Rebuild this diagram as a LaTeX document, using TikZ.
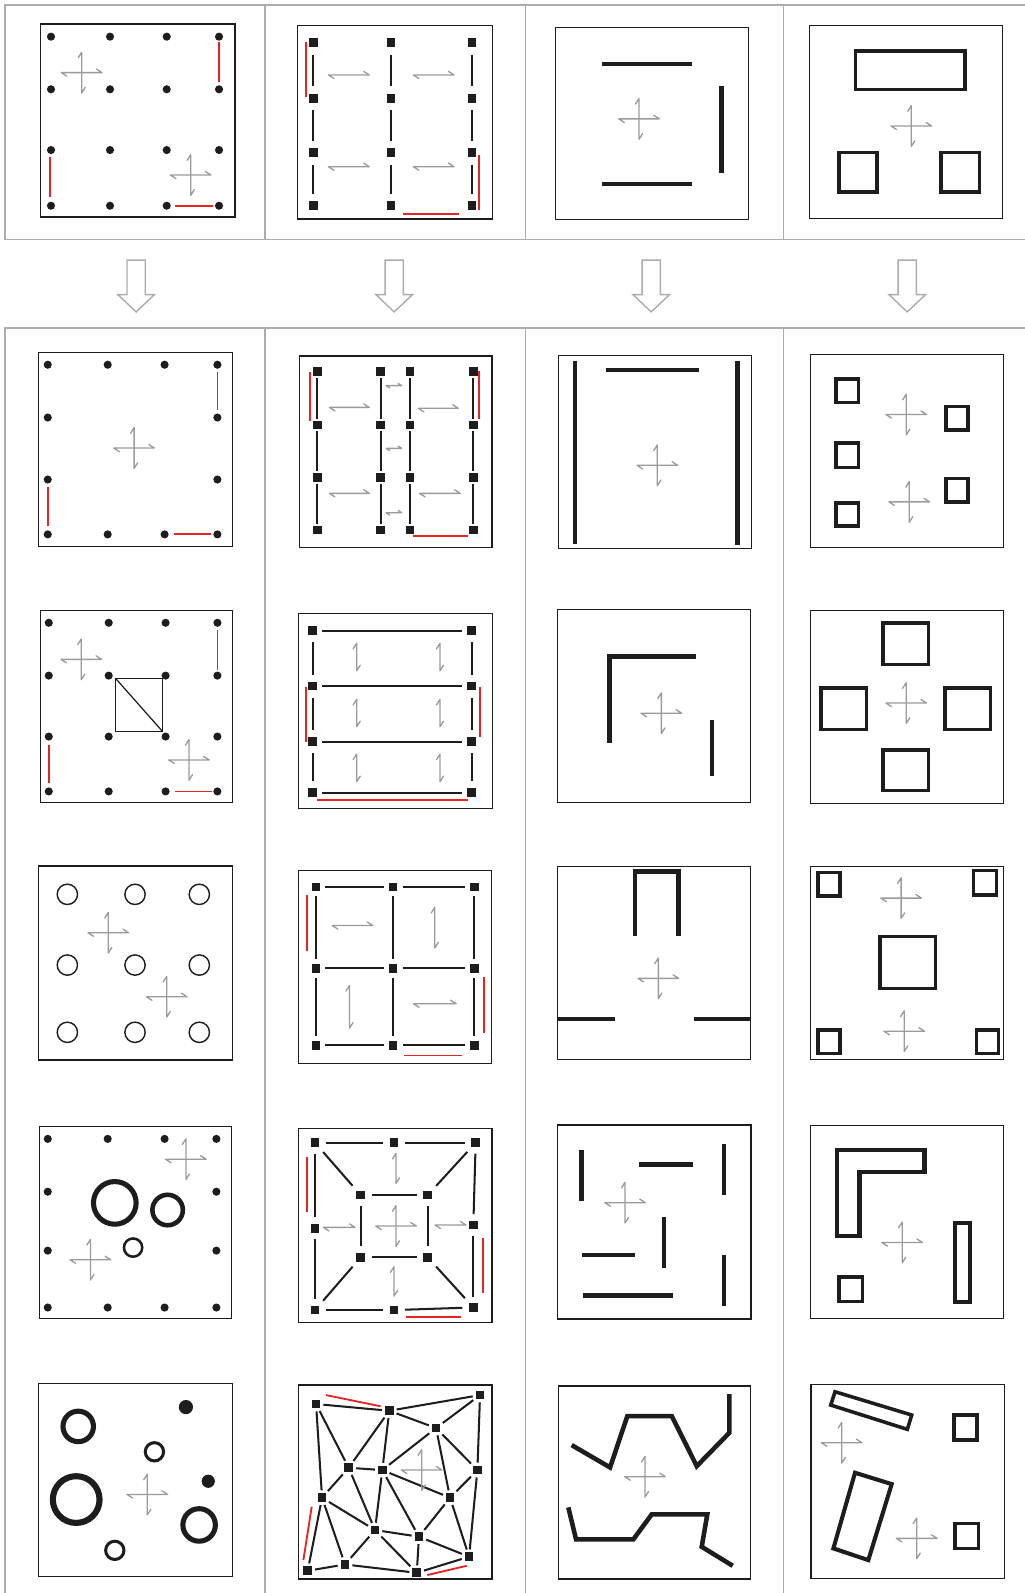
\documentclass[tikz,border=0pt]{standalone}
\usetikzlibrary{calc}
\definecolor{gridc}{RGB}{172,172,172}
\definecolor{arrc}{RGB}{155,155,155}
\definecolor{redc}{RGB}{232,35,35}
\definecolor{ink}{RGB}{30,28,28}
\newcommand\HArr[3]{\draw[gar] ({#1+5.5},{#3+3.5}) -- ({#1},{#3}) -- ({#2},{#3}) -- ({#2-5.5},{#3-3.5});}
\newcommand\HArrS[3]{\draw[gar] ({#1+3.5},{#3+2.2}) -- ({#1},{#3}) -- ({#2},{#3}) -- ({#2-3.5},{#3-2.2});}
\newcommand\VArr[3]{\draw[gar] ({#1-3.5},{#2+5.5}) -- ({#1},{#2}) -- ({#1},{#3}) -- ({#1+3.5},{#3-5.5});}
\newcommand\MyCross[2]{\HArr{#1-20}{#1+20}{#2}\VArr{#1}{#2-20}{#2+20}}
\begin{document}
\begin{tikzpicture}[x=1pt,y=-1pt,
 gridl/.style={draw=gridc,line width=1.4pt},
 panel/.style={draw=ink,line width=1.3pt},
 gar/.style={draw=arrc,line width=1.3pt,line join=round,line cap=round},
 redseg/.style={draw=redc,line width=1.8pt},
 tbar/.style={draw=ink,line width=4.5pt},
 obox/.style={draw=ink,line width=3.5pt},
 sq/.style={fill=ink,draw=none,minimum size=8.5pt,inner sep=0pt,outer sep=0pt},
 dot/.style={circle,fill=ink,draw=none,minimum size=8pt,inner sep=0pt},
 lnk/.style={draw=ink,line width=2pt},
 ring/.style={draw=ink,line width=1.4pt},
]
\useasboundingbox (0,0) rectangle (1008,1568);
% ---------- grid ----------
\draw[gridl] (1012,5) -- (5,5) -- (5,236) -- (1012,236);
\foreach \x in {261,517,771} \draw[gridl] (\x,5) -- (\x,236);
\draw[gridl] (1012,323) -- (5,323) -- (5,1572);
\foreach \x in {261,517,771} \draw[gridl] (\x,323) -- (\x,1572);
\foreach \x in {134,388,641,893}
  \draw[gridl,line join=miter] ({\x-9},256) -- ({\x+9},256) -- ({\x+9},290) -- ({\x+18},290) -- (\x,307) -- ({\x-18},290) -- ({\x-9},290) -- cycle;

% ---------- P01 ----------
\draw[panel] (40.1,23.6) rectangle (231.3,213.6);
\foreach \x [count=\i] in {50.2,108.3,164.1,215.6}
  \foreach \y [count=\j] in {36.1,87.9,147.7,202.5}
    \node[dot] (a\i\j) at (\x,\y) {};
\draw[redseg] (215.9,41) -- (215.9,80.4);
\draw[redseg] (49.2,154.2) -- (49.2,193.6);
\draw[redseg] (172.3,202.5) -- (210,202.5);
\MyCross{80.4}{71.5}
\MyCross{187.7}{172.3}

% ---------- P02 ----------
\draw[panel] (293,24.9) rectangle (484.6,215.6);
\foreach \x [count=\i] in {308.4,384.9,464.6}
  \foreach \y [count=\j] in {42,96.8,150.3,202.5}
    \node[sq] (b\i\j) at (\x,\y) {};
\foreach \i in {1,2,3}
  \foreach \j/\k in {1/2,2/3,3/4}
    \draw[lnk,shorten >=7.5pt,shorten <=7.5pt] (b\i\j) -- (b\i\k);
\HArr{323.2}{363.5}{73.8}
\HArr{406.8}{446.9}{73.8}
\HArr{323.2}{363.5}{164.1}
\HArr{406.8}{446.9}{164.1}
\draw[redseg] (300.9,41) -- (300.9,95.2);
\draw[redseg] (471.5,152.6) -- (471.5,206.7);
\draw[redseg] (397,210.3) -- (452.1,210.3);

% ---------- P03 ----------
\draw[panel] (547,27) rectangle (737,216);
\draw[tbar] (593,63) -- (681,63);
\draw[tbar] (710,85) -- (710,170);
\draw[tbar] (593,181) -- (681,181);
\MyCross{629}{117}

% ---------- P04 ----------
\draw[panel] (797,25) rectangle (987,215);
\draw[obox] (842,50) rectangle (950,88);
\draw[obox] (826,150) rectangle (863,189);
\draw[obox] (926,150) rectangle (964,189);
\MyCross{897}{124}

% ---------- P11 ----------
\draw[panel] (38,347) rectangle (229,538);
\foreach \x/\y [count=\k] in {47/359,106/359,162/359,214/359,47/411,214/411,47/472,214/472,47/526,106/526,162/526,214/526}
  \node[dot] (c\k) at (\x,\y) {};
\draw[redseg] (214,366) -- (214,404);
\draw[redseg] (47,479) -- (47,518);
\draw[redseg] (171,526) -- (208,526);
\MyCross{132}{441}

% ---------- P12 ----------
\draw[panel] (294.6,350.4) rectangle (484.3,539.1);
\foreach \x [count=\i] in {312.3,374.7,403.6,465.9}
  \foreach \y [count=\j] in {365.9,418.3,469.8,521.7}
    \node[sq] (d\i\j) at (\x,\y) {};
\foreach \i in {1,2,3,4}
  \foreach \j/\k in {1/2,2/3,3/4}
    \draw[lnk,shorten >=2pt,shorten <=2pt] (d\i\j) -- (d\i\k);
\HArr{324.2}{363.5}{401}
\HArr{411.8}{451.1}{401.9}
\HArr{324.2}{363.5}{485.6}
\HArr{413}{453}{485.6}
\HArrS{380}{395.4}{379.6}
\HArrS{380}{395.4}{441.3}
\HArrS{380}{395.4}{504.7}
\draw[redseg] (305.1,366.5) -- (305.1,414.4);
\draw[redseg] (471.8,365.2) -- (471.8,412.4);
\draw[redseg] (406.9,527.3) -- (461,527.3);

% ---------- P13 ----------
\draw[panel] (550,350) rectangle (740,540);
\draw[tbar] (566,355) -- (566,535);
\draw[tbar] (726,355) -- (726,536);
\draw[tbar] (596,364) -- (688,364);
\MyCross{647}{458}

% ---------- P14 ----------
\draw[panel] (798,349) rectangle (988,539);
\draw[obox] (823,373) rectangle (845,396);
\draw[obox] (931,400) rectangle (953,423);
\draw[obox] (823,436) rectangle (845,460);
\draw[obox] (931,471) rectangle (953,494);
\draw[obox] (823,495) rectangle (845,518);
\MyCross{892}{408}
\MyCross{895}{494}

% ---------- P21 ----------
\draw[panel] (40,601) rectangle (229,790);
\foreach \x [count=\i] in {48,107,163,214}
  \foreach \y [count=\j] in {613,665,725,779}
    \node[dot] (e\i\j) at (\x,\y) {};
\draw[draw=ink,line width=1.2pt] (114,668) rectangle (160,720);
\draw[draw=ink,line width=1.2pt] (114,668) -- (160,720);
\draw[redseg] (214,620) -- (214,659);
\draw[redseg] (48,733) -- (48,771);
\draw[redseg] (172,779) -- (209,779);
\MyCross{80}{649}
\MyCross{186}{748}

% ---------- P22 ----------
\draw[panel] (293.6,603.7) rectangle (485,795.7);
\foreach \x [count=\i] in {307.8,464.3}
  \foreach \y [count=\j] in {620.8,675.3,730.1,780.3}
    \node[sq] (f\i\j) at (\x,\y) {};
\foreach \j in {1,2,3,4}
  \draw[lnk,shorten >=5pt,shorten <=5pt] (f1\j) -- (f2\j);
\foreach \i in {1,2}
  \foreach \j/\k in {1/2,2/3,3/4}
    \draw[lnk,shorten >=7pt,shorten <=7pt] (f\i\j) -- (f\i\k);
\foreach \x in {351.1,433.1} {
  \VArr{\x}{633.2}{660.2}
  \VArr{\x}{688.4}{715.3}
  \VArr{\x}{742.2}{769.4}
}
\draw[redseg] (301,675.9) -- (301,730.1);
\draw[redseg] (472.5,676.6) -- (472.5,725.1);
\draw[redseg] (312.4,787.5) -- (460.4,787.5);

% ---------- P23 ----------
\draw[panel] (549,600) rectangle (739,790);
\draw[tbar,line join=miter] (685,646) -- (600,646) -- (600,731);
\draw[tbar] (701,709) -- (701,764);
\MyCross{651}{702}

% ---------- P24 ----------
\draw[panel] (798,601) rectangle (988,791);
\draw[obox] (869,613) rectangle (914,654);
\draw[obox] (808,677) rectangle (853,718);
\draw[obox] (930,677) rectangle (975,718);
\draw[obox] (869,738) rectangle (914,778);
\MyCross{892}{692}

% ---------- P31 ----------
\draw[panel] (37.7,852.4) rectangle (229.1,1043.4);
\foreach \x in {66.3,132.9,196.2}
  \foreach \y in {880.3,949.9,1016.1}
    \draw[ring] (\x,\y) circle (10);
\MyCross{106.6}{918.1}
\MyCross{164.1}{981.1}

% ---------- P32 ----------
\draw[panel] (294,857) rectangle (484,1047);
\foreach \x [count=\i] in {311,387,467}
  \foreach \y [count=\j] in {873,953,1029}
    \node[sq] (g\i\j) at (\x,\y) {};
\foreach \j in {1,2,3} {
  \draw[lnk,shorten >=5pt,shorten <=5pt] (g1\j) -- (g2\j);
  \draw[lnk,shorten >=5pt,shorten <=5pt] (g2\j) -- (g3\j);
}
\foreach \i in {1,2,3} {
  \draw[lnk,shorten >=5pt,shorten <=5pt] (g\i1) -- (g\i2);
  \draw[lnk,shorten >=5pt,shorten <=5pt] (g\i2) -- (g\i3);
}
\HArr{327}{367}{911}
\VArr{428}{893}{933}
\VArr{344}{970}{1012}
\HArr{407}{449}{988}
\draw[redseg] (302,881) -- (302,936);
\draw[redseg] (476,962) -- (476,1017);
\draw[redseg] (398,1039) -- (455,1039);

% ---------- P33 ----------
\draw[panel] (549,853) rectangle (739,1043);
\draw[tbar,line join=miter] (625,921) -- (625,858) -- (668,858) -- (668,921);
\draw[tbar] (549,1003) -- (605,1003);
\draw[tbar] (683,1003) -- (739,1003);
\MyCross{648}{963}

% ---------- P34 ----------
\draw[panel] (798,853) rectangle (988,1043);
\draw[obox] (805,859) rectangle (827,882);
\draw[obox] (958,857) rectangle (981,881);
\draw[obox] (805,1014) rectangle (827,1037);
\draw[obox] (961,1014) rectangle (983,1037);
\draw[obox] (866,922) rectangle (921,973);
\MyCross{887}{884}
\MyCross{890}{1015}

% ---------- P41 ----------
\draw[panel] (39,1109) rectangle (228,1298);
\foreach \x/\y [count=\k] in {47/1121,106/1121,162/1121,213/1121,47/1173,213/1173,47/1231,213/1231,47/1287,106/1287,162/1287,213/1287}
  \node[dot] (h\k) at (\x,\y) {};
\draw[draw=ink,line width=5pt] (113,1184) circle (21);
\draw[draw=ink,line width=4.5pt] (165,1191) circle (15);
\draw[draw=ink,line width=2.5pt] (131,1228) circle (9);
\MyCross{183}{1141}
\MyCross{89}{1240}

% ---------- P42 ----------
\draw[panel] (293.6,1110.6) rectangle (484.3,1302);
\node[sq] (k1) at (310.1,1124.8) {};
\node[sq] (k2) at (387.8,1124.8) {};
\node[sq] (k3) at (468.2,1124.8) {};
\node[sq] (k4) at (310.1,1209.1) {};
\node[sq] (k5) at (465.9,1205.8) {};
\node[sq] (k6) at (310.1,1289.5) {};
\node[sq] (k7) at (387.8,1289.5) {};
\node[sq] (k8) at (465.9,1286.9) {};
\node[sq] (m1) at (355,1176.3) {};
\node[sq] (m2) at (421,1176.3) {};
\node[sq] (m3) at (355,1237.6) {};
\node[sq] (m4) at (421,1237.6) {};
\foreach \a/\b in {k1/k2,k2/k3,k1/k4,k4/k6,k3/k5,k5/k8,k6/k7,k7/k8,m1/m2,m2/m4,m4/m3,m3/m1,k1/m1,k3/m2,k6/m3,k8/m4}
  \draw[lnk,shorten >=6.5pt,shorten <=6.5pt] (\a) -- (\b);
\VArr{389.8}{1135.3}{1164.8}
\VArr{387.8}{1246.9}{1275.7}
\HArr{318.3}{349.4}{1208.1}
\HArr{428.2}{458.7}{1205.8}
\MyCross{389.8}{1206.8}
\draw[redseg] (302.5,1138.6) -- (302.5,1192.7);
\draw[redseg] (475.8,1218.9) -- (475.8,1273.1);
\draw[redseg] (399.6,1296.1) -- (453.5,1296.1);

% ---------- P43 ----------
\draw[panel] (548.6,1107.4) rectangle (739.3,1298.4);
\draw[tbar] (572.6,1132) -- (572.6,1181.9);
\draw[tbar] (629.3,1146.1) -- (681.8,1146.1);
\draw[tbar] (712.7,1126.1) -- (712.7,1176.6);
\draw[tbar] (653.6,1197.6) -- (653.6,1247.8);
\draw[tbar] (572.6,1235.4) -- (625.4,1235.4);
\draw[tbar] (574.2,1275.4) -- (662.1,1275.4);
\draw[tbar] (712.7,1235.4) -- (712.7,1285.3);
\MyCross{615.2}{1183.8}

% ---------- P44 ----------
\draw[panel] (798,1108) rectangle (988,1298);
\draw[draw=ink,line width=4pt,line join=miter] (824,1132) -- (910,1132) -- (910,1154) -- (846,1154) -- (846,1217) -- (824,1217) -- cycle;
\draw[draw=ink,line width=4pt] (940,1204) rectangle (955,1282);
\draw[draw=ink,line width=3.5pt] (826,1257) rectangle (849,1281);
\MyCross{888}{1223}

% ---------- P51 ----------
\draw[panel] (38,1362) rectangle (229,1552);
\draw[draw=ink,line width=5pt] (77,1404) circle (15);
\draw[draw=ink,line width=3pt] (152,1429) circle (9);
\fill[ink] (183,1385) circle (7);
\draw[draw=ink,line width=6pt] (75,1476) circle (23);
\fill[ink] (205,1458) circle (6.5);
\draw[draw=ink,line width=5pt] (196,1501) circle (16);
\draw[draw=ink,line width=3pt] (113,1526) circle (9);
\MyCross{145}{1471}

% ---------- P52 ----------
\draw[panel] (293.6,1363.3) rectangle (484.3,1554.3);
\node[sq] (nA) at (311.1,1382) {};
\node[sq] (nB) at (383.2,1388.6) {};
\node[sq] (nC) at (472.5,1373.2) {};
\node[sq] (nD) at (429.2,1405.6) {};
\node[sq] (nE) at (343.2,1444.7) {};
\node[sq] (nF) at (376.3,1447) {};
\node[sq] (nG) at (469.9,1447) {};
\node[sq] (nH) at (317,1474.2) {};
\node[sq] (nI) at (443,1474.2) {};
\node[sq] (nJ) at (369.1,1506) {};
\node[sq] (nK) at (412.4,1512.6) {};
\node[sq] (nL) at (302.9,1546.1) {};
\node[sq] (nM) at (339.6,1539.9) {};
\node[sq] (nN) at (410.2,1548.1) {};
\node[sq] (nO) at (461.7,1532.3) {};
\foreach \a/\b in {A/B,A/E,A/H,B/E,B/F,B/D,B/C,C/D,C/G,D/F,D/G,D/I,E/F,E/H,E/J,F/J,F/I,F/K,G/I,G/O,H/J,H/L,H/M,I/K,I/O,J/K,J/M,J/N,K/N,K/O,L/M,M/N,N/O}
  \draw[lnk,shorten >=3pt,shorten <=3pt] (n\a) -- (n\b);
\MyCross{415.1}{1447}
\draw[redseg] (320.9,1373.2) -- (374.7,1384.2);
\draw[redseg] (306.8,1483.1) -- (298.6,1535.6);
\draw[redseg] (420.6,1550.3) -- (459.4,1541.2);

% ---------- P53 ----------
\draw[panel] (549.6,1364.3) rectangle (738.9,1554.3);
\draw[tbar,line join=miter] (562.7,1422.4) -- (600.5,1444.4) -- (617.5,1393.8) -- (661.2,1393.8) -- (685.8,1443.1) -- (717.9,1410.3) -- (717.9,1372.2);
\draw[tbar,line join=miter] (559.4,1483.7) -- (567,1515.2) -- (623.4,1515.2) -- (641.5,1490.6) -- (696.2,1490.6) -- (690.7,1522.5) -- (721.2,1541.2);
\MyCross{634.9}{1453.5}

% ---------- P54 ----------
\draw[panel] (798.3,1362.6) rectangle (988.6,1553.6);
\draw[draw=ink,line width=3.5pt,line join=miter] (821.9,1369.9) -- (897.4,1392.8) -- (893.1,1406.9) -- (817.7,1383) -- cycle;
\draw[obox] (939.1,1392.8) rectangle (961.4,1417.4);
\draw[draw=ink,line width=4pt,line join=miter] (841.6,1449.6) -- (877.7,1460.8) -- (854.7,1535.6) -- (820.3,1524.1) -- cycle;
\draw[obox] (940.1,1499.5) rectangle (963,1524.1);
\MyCross{828.5}{1420.1}
\MyCross{902.3}{1514.2}
\end{tikzpicture}
\end{document}
